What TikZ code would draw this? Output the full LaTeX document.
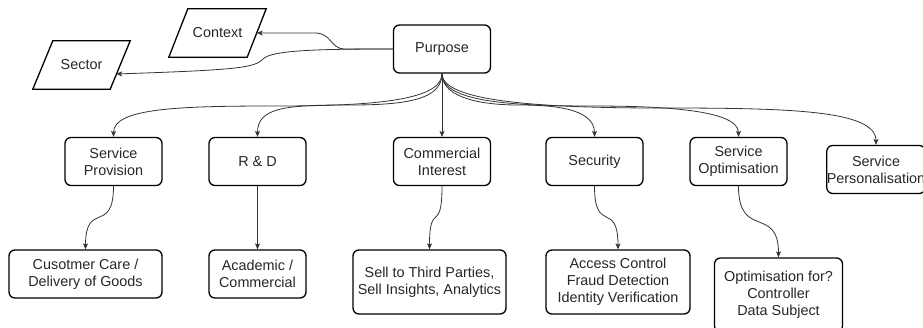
\documentclass[tikz,border=0pt]{standalone}
\usepackage{fontspec}
\setmainfont{Liberation Sans}
\usetikzlibrary{arrows.meta}
\begin{document}
\begin{tikzpicture}[x=1pt,y=-1pt,
  box/.style={draw=black, line width=1.3pt, rounded corners=6pt, minimum width=97pt, minimum height=48pt, align=center, inner sep=0pt, font=\fontsize{14.4}{17}\selectfont, text=black!85},
  para/.style={minimum height=48pt, inner sep=0pt, align=center, font=\fontsize{14.4}{17}\selectfont, text=black!85},
  paraline/.style={draw=black, line width=1.3pt, line join=miter},
  conn/.style={draw=black!80, line width=0.8pt, -{Stealth[length=6pt,width=5pt,inset=1.5pt]}}]
\useasboundingbox (0,0) rectangle (923,328);

% nodes
\node[box] (purpose) at (442,49) {Purpose};
\node[para, minimum width=78pt] (context) at (217.5,33) {Context};
\node[para, minimum width=77pt] (sector) at (81.5,65) {Sector};
\draw[paraline] ([xshift=9.5pt]context.north west) -- ([xshift=9.5pt]context.north east) -- ([xshift=-9.5pt]context.south east) -- ([xshift=-9.5pt]context.south west) -- cycle;
\draw[paraline] ([xshift=10pt]sector.north west) -- ([xshift=10pt]sector.north east) -- ([xshift=-10pt]sector.south east) -- ([xshift=-10pt]sector.south west) -- cycle;

\node[box] (sp) at (113.5,161.5) {Service\\Provision};
\node[box] (rd) at (257.5,161.5) {R \& D};
\node[box] (ci) at (442,161.5) {Commercial\\Interest};
\node[box] (sec) at (594.5,161.5) {Security};
\node[box] (so) at (738.5,161.5) {Service\\Optimisation};
\node[box] (spers) at (876,169.5) {Service\\Personalisation};

\node[box, minimum width=153pt] (cc) at (85.5,274) {Cusotmer Care /\\Delivery of Goods};
\node[box] (ac) at (257.5,274) {Academic /\\Commercial};
\node[box, minimum width=153pt, minimum height=64pt] (st) at (429.5,282) {Sell to Third Parties,\\Sell Insights, Analytics};
\node[box, minimum width=144pt, minimum height=64pt] (acc) at (618,282) {Access Control\\Fraud Detection\\Identity Verification};
\node[box, minimum width=128pt, minimum height=74pt] (of) at (778.5,295) {Optimisation for?\\Controller\\Data Subject};

\coordinate (sectorin) at ([xshift=-4pt,yshift=-9pt]sector.east);

% connectors from purpose to context / sector
\draw[conn] (purpose.west) -- (345,49) .. controls (330,49) and (332,33) .. (315,33) -- (context.east);
\draw[conn] (purpose.west) .. controls (320,49) and (272,50) .. (263,59) .. controls (255,68) and (235,70) .. (sectorin);

% purpose to children
\draw[conn] (purpose.south) .. controls (442,100) and (376,106) .. (277,106) .. controls (179,106) and (113.5,108) .. (sp.north);
\draw[conn] (purpose.south) .. controls (442,100) and (405,105) .. (350,105) .. controls (287,105) and (257.5,107) .. (rd.north);
\draw[conn] (purpose.south) -- (ci.north);
\draw[conn] (purpose.south) .. controls (442,100) and (488,105) .. (518,105) .. controls (548,105) and (594.5,107) .. (sec.north);
\draw[conn] (purpose.south) .. controls (442,100) and (501,106) .. (590,106) .. controls (649,106) and (738.5,108) .. (so.north);
\draw[conn] (purpose.south) .. controls (442,100) and (529,108) .. (660,108) .. controls (789,108) and (876,110) .. (spers.north);

% children to grandchildren
\draw[conn] (sp.south) .. controls (113.5,235) and (85.5,200) .. (cc.north);
\draw[conn] (rd.south) -- (ac.north);
\draw[conn] (ci.south) .. controls (442,235) and (429.5,200) .. (st.north);
\draw[conn] (sec.south) .. controls (594.5,235) and (618,200) .. (acc.north);
\draw[conn] (so.south) .. controls (738.5,240) and (778.5,205) .. (of.north);
\end{tikzpicture}
\end{document}
